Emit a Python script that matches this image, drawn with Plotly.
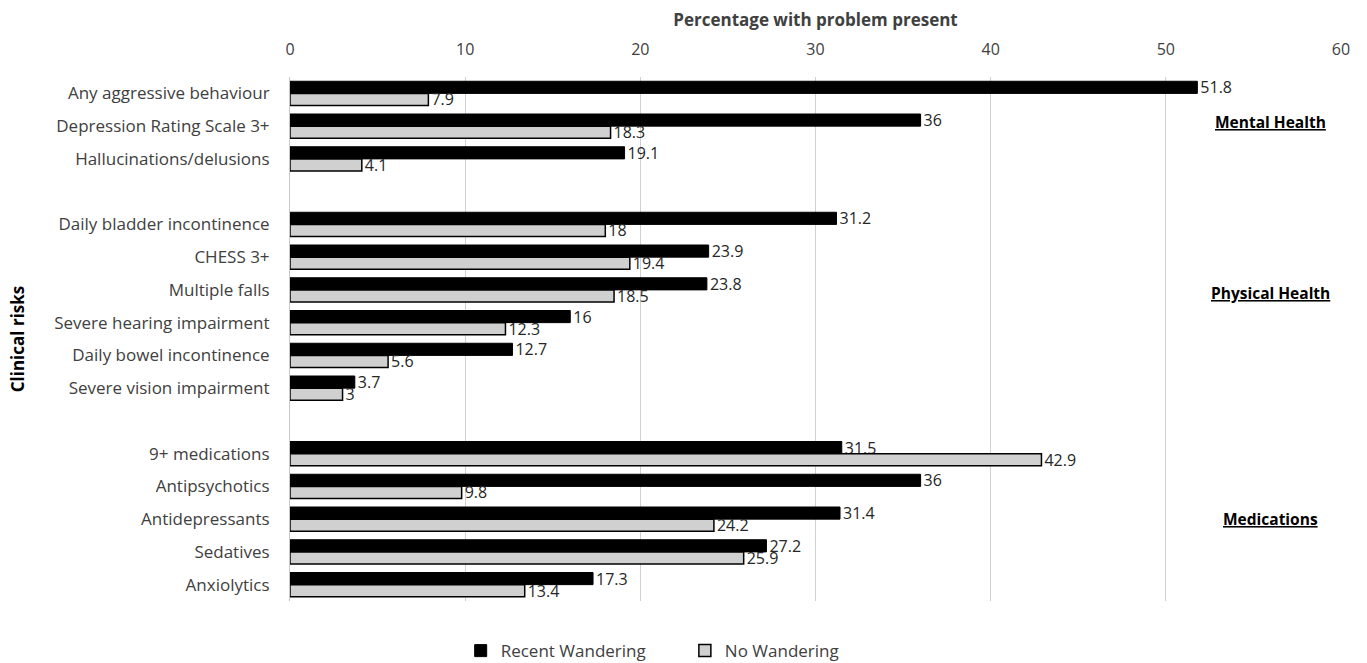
import plotly.graph_objects as go

# Clinical risk categories, top to bottom; blank entries separate the groups
categories = [
    "Any aggressive behaviour", "Depression Rating Scale 3+", "Hallucinations/delusions",
    " ",
    "Daily bladder incontinence", "CHESS 3+", "Multiple falls",
    "Severe hearing impairment", "Daily bowel incontinence", "Severe vision impairment",
    "  ",
    "9+ medications", "Antipsychotics", "Antidepressants", "Sedatives", "Anxiolytics",
]
recent_wandering = [51.8, 36, 19.1, None, 31.2, 23.9, 23.8, 16, 12.7, 3.7, None,
                    31.5, 36, 31.4, 27.2, 17.3]
no_wandering = [7.9, 18.3, 4.1, None, 18, 19.4, 18.5, 12.3, 5.6, 3, None,
                42.9, 9.8, 24.2, 25.9, 13.4]

section_labels = ["Mental Health", "Physical Health", "Medications"]
section_rows = ["Depression Rating Scale 3+", "Multiple falls", "Antidepressants"]

FONT = "Open Sans"

def fmt(v):
    return "" if v is None else f"{v:g}"

fig = go.Figure()
fig.add_trace(go.Bar(
    name="Recent Wandering", y=categories, x=recent_wandering, orientation="h",
    marker=dict(color="#000000", line=dict(color="#000000", width=1)),
    text=[fmt(v) for v in recent_wandering], textposition="outside",
    textfont=dict(family=FONT, size=16, color="#262626"),
    constraintext="none", cliponaxis=False, legend="legend",
))
fig.add_trace(go.Bar(
    name="No Wandering", y=categories, x=no_wandering, orientation="h",
    marker=dict(color="#d0d0d0", line=dict(color="#000000", width=1.5)),
    text=[fmt(v) for v in no_wandering], textposition="outside",
    textfont=dict(family=FONT, size=16, color="#262626"),
    constraintext="none", cliponaxis=False, legend="legend2",
))

# group headings on the right-hand side
for lab, row, dy in zip(section_labels, section_rows, [4, -3, 0]):
    fig.add_annotation(
        x=56.0, y=row, xref="x", yref="y", text=f"<u><b>{lab}</b></u>",
        showarrow=False, xanchor="center", yanchor="middle", yshift=dy,
        font=dict(family=FONT, size=15.5, color="#000000"),
    )

legend_style = dict(
    orientation="h", xref="container", xanchor="left",
    yref="container", y=0.018, yanchor="middle",
    font=dict(family=FONT, size=17, color="#404040"),
    itemwidth=30,
)

fig.update_layout(
    width=1367, height=663,
    margin=dict(l=290, r=26, t=77, b=62, autoexpand=False),
    paper_bgcolor="white", plot_bgcolor="white",
    barmode="group", bargap=0.26, bargroupgap=0,
    font=dict(family=FONT, size=17, color="#404040"),
    xaxis=dict(
        side="top", range=[0, 60], dtick=10, showgrid=True, gridcolor="#d0d0d0",
        gridwidth=1, zeroline=False, showline=False, ticks="",
        ticklabelstandoff=18, automargin=False,
        tickfont=dict(family=FONT, size=16, color="#404040"),
        title=dict(text="<b>Percentage with problem present</b>",
                   font=dict(family=FONT, size=17, color="#404040"), standoff=6),
    ),
    yaxis=dict(
        categoryorder="array", categoryarray=categories, autorange="reversed",
        showgrid=False, showline=True, linecolor="#c8c8c8", linewidth=1,
        ticks="", ticklabelstandoff=16, automargin=False,
        tickfont=dict(family=FONT, size=17, color="#404040"),
        title=dict(text="<b>Clinical risks</b>",
                   font=dict(family=FONT, size=17, color="#000000"), standoff=25),
    ),
    legend=dict(legend_style, x=0.337),
    legend2=dict(legend_style, x=0.501),
    showlegend=True,
)

fig.write_html("out.html")
